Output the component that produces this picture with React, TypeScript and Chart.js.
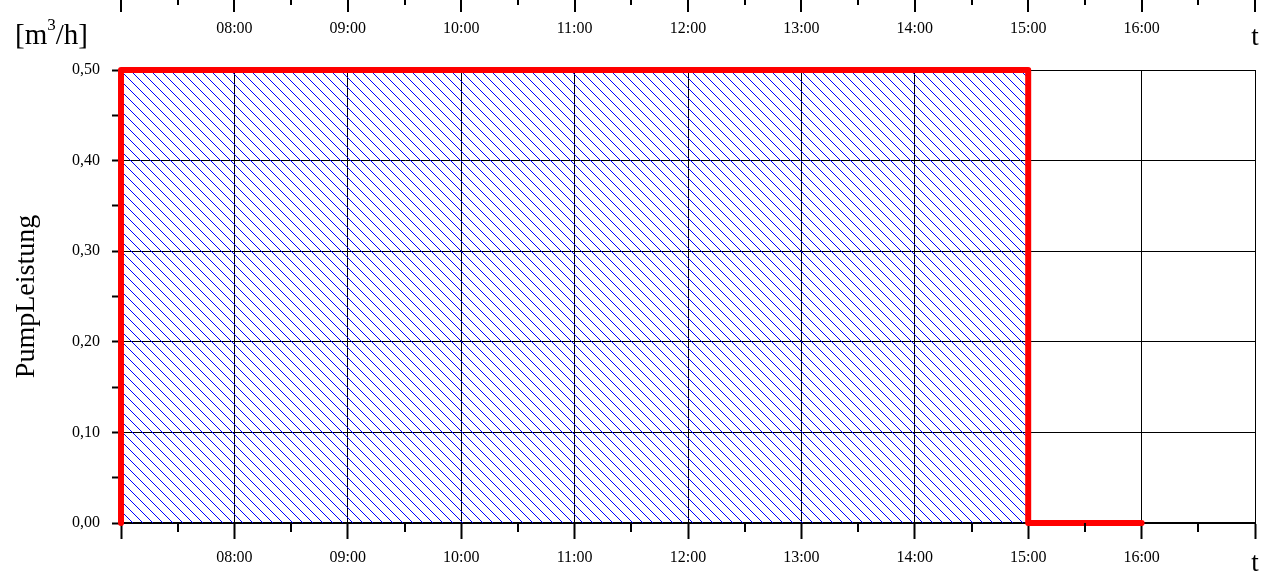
import React, { useEffect, useRef } from 'react';
import { Chart, registerables } from 'chart.js';

Chart.register(...registerables);

// Data: pump output over time (hours of day)
const timeHours = [7, 7, 15, 15, 16];
const pumpRate = [0, 0.5, 0.5, 0, 0];
const labelHours = [8, 9, 10, 11, 12, 13, 14, 15, 16];
const timeLabels = ['08:00', '09:00', '10:00', '11:00', '12:00', '13:00', '14:00', '15:00', '16:00'];
const yTickValues = [0, 0.1, 0.2, 0.3, 0.4, 0.5];
const yTickLabels = ['0,00', '0,10', '0,20', '0,30', '0,40', '0,50'];

const X_MIN = 7;
const X_MAX = 17;
const Y_MIN = 0;
const Y_MAX = 0.5;

const SERIF = "'Liberation Serif', 'Times New Roman', serif";

const isMajorX = (v: number) => Math.abs(v - Math.round(v)) < 1e-6;
const isMajorY = (v: number) => Math.abs(v * 10 - Math.round(v * 10)) < 1e-6;

const hourLabel = (v: number) => {
  const i = labelHours.findIndex((h) => Math.abs(h - v) < 1e-6);
  return i >= 0 ? timeLabels[i] : '';
};
const yLabel = (v: number) => {
  const i = yTickValues.findIndex((t) => Math.abs(t - v) < 1e-6);
  return i >= 0 ? yTickLabels[i] : '';
};

export default function App() {
  const ref = useRef<HTMLCanvasElement>(null);

  useEffect(() => {
    const canvas = ref.current;
    if (!canvas) return;

    const tile = document.createElement('canvas');
    tile.width = 10;
    tile.height = 10;
    const tc = tile.getContext('2d')!;
    tc.strokeStyle = '#0000ff';
    tc.lineWidth = 1;
    tc.beginPath();
    for (const k of [-10, 0, 10]) {
      tc.moveTo(k, 0);
      tc.lineTo(k + 10, 10);
    }
    tc.stroke();
    const pattern = canvas.getContext('2d')!.createPattern(tile, 'repeat');

    const extras = {
      id: 'extras',
      afterDraw(chart: any) {
        const ctx = chart.ctx as CanvasRenderingContext2D;
        const xs = chart.scales.x;
        const bottom = chart.chartArea.bottom;
        ctx.save();
        ctx.strokeStyle = '#000';
        ctx.lineWidth = 2;
        ctx.beginPath();
        for (let v = X_MIN; v <= X_MAX + 1e-6; v += 0.5) {
          const px = Math.round(xs.getPixelForValue(v));
          const major = isMajorX(v);
          if (!major) {
            ctx.moveTo(px, bottom);
            ctx.lineTo(px, bottom + 9);
          }
          ctx.moveTo(px, 0);
          ctx.lineTo(px, major ? 12 : 5);
        }
        ctx.stroke();

        ctx.fillStyle = '#000';
        ctx.font = `16px ${SERIF}`;
        ctx.textAlign = 'center';
        ctx.textBaseline = 'middle';
        labelHours.forEach((h, i) => {
          ctx.fillText(timeLabels[i], xs.getPixelForValue(h), 29);
        });

        ctx.font = `27px ${SERIF}`;
        ctx.textBaseline = 'alphabetic';
        const rx = xs.getPixelForValue(X_MAX);
        ctx.fillText('t', rx, 45);
        ctx.fillText('t', rx, 571);

        ctx.textAlign = 'left';
        let x = 15;
        const base = 44;
        ctx.font = `29px ${SERIF}`;
        ctx.fillText('[m', x, base);
        x += ctx.measureText('[m').width;
        ctx.font = `17px ${SERIF}`;
        ctx.fillText('3', x, base - 14);
        x += ctx.measureText('3').width;
        ctx.font = `29px ${SERIF}`;
        ctx.fillText('/h]', x, base);
        ctx.restore();
      },
    };

    const chart = new Chart(canvas, {
      type: 'line',
      data: {
        datasets: [
          {
            data: timeHours.map((t, i) => ({ x: t, y: pumpRate[i] })),
            borderColor: '#ff0000',
            borderWidth: 6,
            borderCapStyle: 'round',
            borderJoinStyle: 'round',
            pointRadius: 0,
            fill: 'origin',
            backgroundColor: pattern as any,
            tension: 0,
            clip: 10,
          },
        ],
      },
      options: {
        animation: false,
        responsive: false,
        devicePixelRatio: 1,
        layout: { padding: { top: 70, right: 16, left: 0, bottom: 0 } },
        plugins: { legend: { display: false }, tooltip: { enabled: false } },
        scales: {
          x: {
            type: 'linear',
            min: X_MIN,
            max: X_MAX,
            afterFit: (s: any) => {
              s.height = 50;
            },
            afterBuildTicks: (s: any) => {
              const t = [];
              for (let v = X_MIN; v <= X_MAX + 1e-6; v += 0.5) t.push({ value: v });
              s.ticks = t;
            },
            ticks: {
              autoSkip: false,
              maxRotation: 0,
              padding: 9,
              color: '#000',
              font: { family: SERIF, size: 16 },
              callback: (v: any) => hourLabel(Number(v)),
            },
            grid: {
              color: (c: any) => (isMajorX(c.tick.value) ? '#000' : 'rgba(0,0,0,0)'),
              tickColor: (c: any) => (isMajorX(c.tick.value) ? '#000' : 'rgba(0,0,0,0)'),
              tickWidth: 2,
              lineWidth: 1,
              tickLength: 16,
            },
            border: { display: true, color: '#000', width: 2 },
          },
          y: {
            type: 'linear',
            min: Y_MIN,
            max: Y_MAX,
            afterFit: (s: any) => {
              s.width = 121;
            },
            afterBuildTicks: (s: any) => {
              const t = [];
              for (let i = 0; i <= 10; i++) t.push({ value: i * 0.05 });
              s.ticks = t;
            },
            ticks: {
              autoSkip: false,
              padding: 12,
              color: '#000',
              font: { family: SERIF, size: 16 },
              callback: (v: any) => yLabel(Number(v)),
            },
            grid: {
              color: (c: any) => (isMajorY(c.tick.value) ? '#000' : 'rgba(0,0,0,0)'),
              tickColor: '#000',
              tickWidth: 2,
              lineWidth: 1,
              tickLength: 9,
            },
            border: { display: true, color: '#000', width: 1 },
            title: {
              display: true,
              text: 'PumpLeistung',
              color: '#000',
              font: { family: SERIF, size: 28 },
              padding: { top: 10, bottom: 0 },
            },
          },
        },
      },
      plugins: [extras],
    });

    return () => chart.destroy();
  }, []);

  return (
    <div style={{ position: 'fixed', left: 0, top: 0, width: 1271, height: 573, background: '#fff' }}>
      <canvas ref={ref} width={1271} height={573} style={{ display: 'block' }} />
    </div>
  );
}
